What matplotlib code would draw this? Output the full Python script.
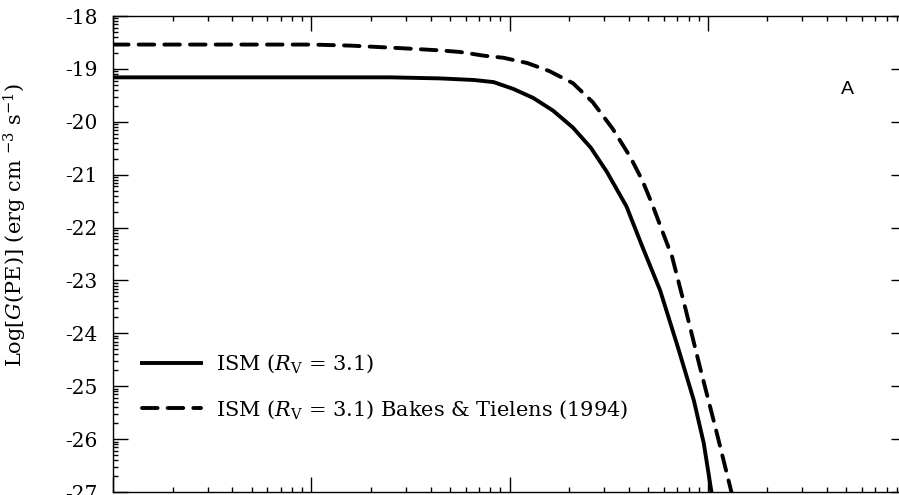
"""
photoelectric heating rate curves, ISM (Rv=3.1) vs Bakes & Tielens (1994)
"""
import numpy as np
import matplotlib
matplotlib.use("Agg")
import matplotlib.pyplot as plt
from matplotlib.ticker import FixedLocator, LogLocator, NullFormatter

plt.rcParams['font.family'] = ['DejaVu Serif']
plt.rcParams['mathtext.fontset'] = 'dejavuserif'
plt.rcParams['axes.unicode_minus'] = False

ism_logx = [0.0, 0.5, 1.0, 1.40, 1.65, 1.82, 1.92, 2.02, 2.12, 2.22, 2.32,
            2.41, 2.49, 2.59, 2.67, 2.76, 2.85, 2.93, 2.98, 3.02, 3.05]
ism_logg = [-19.16, -19.16, -19.16, -19.16, -19.18, -19.21, -19.25, -19.38,
            -19.55, -19.79, -20.11, -20.49, -20.94, -21.60, -22.36, -23.19,
            -24.27, -25.27, -26.08, -27.03, -27.7]

bt_logx = [0.0, 0.5, 1.0, 1.20, 1.46, 1.65, 1.75, 1.87, 1.97, 2.09, 2.20,
           2.32, 2.42, 2.52, 2.61, 2.67, 2.72, 2.77, 2.82, 2.89, 2.96, 3.04,
           3.12, 3.15]
bt_logg = [-18.54, -18.54, -18.54, -18.56, -18.61, -18.65, -18.68, -18.75,
           -18.79, -18.89, -19.04, -19.27, -19.63, -20.13, -20.67, -21.11,
           -21.56, -22.06, -22.55, -23.57, -24.63, -25.80, -27.01, -27.8]

y_major = [-27, -26, -25, -24, -23, -22, -21, -20, -19, -18]

labels = [r'ISM ($R_{\rm V}$ = 3.1)',
          r'ISM ($R_{\rm V}$ = 3.1) Bakes & Tielens (1994)']


def plot_rates():
    fig = plt.figure(figsize=(8.99, 4.95), dpi=100)
    ax = fig.add_axes([113/899, 3/495, 793/899, 476/495])

    x1 = np.power(10.0, ism_logx)
    x2 = np.power(10.0, bt_logx)
    ax.plot(x1, ism_logg, 'k-', lw=2.8, label=labels[0],
            solid_joinstyle='round')
    ax.plot(x2, bt_logg, 'k--', lw=2.8, dashes=(4, 2.6),
            dash_capstyle='round', dash_joinstyle='round', label=labels[1])

    ax.set_xscale('log')
    ax.set_xlim(1, 1e4)
    ax.set_ylim(-27, -18)

    #ticks
    ax.xaxis.set_major_locator(LogLocator(base=10))
    ax.xaxis.set_minor_locator(LogLocator(base=10, subs=np.arange(2, 10)))
    ax.xaxis.set_minor_formatter(NullFormatter())
    ax.yaxis.set_major_locator(FixedLocator(y_major))
    yminor = [k + np.log10(m) for k in range(-27, -18) for m in range(2, 10)]
    ax.yaxis.set_minor_locator(FixedLocator(yminor))
    ax.set_yticklabels([str(v) for v in y_major])

    ax.tick_params(which='both', direction='in', top=True, right=True,
                   bottom=True, left=True, labelbottom=False, width=1.0)
    ax.tick_params(which='major', length=11, pad=11, labelsize=14.5)
    ax.tick_params(which='minor', length=3.8)
    ax.tick_params(axis='y', which='minor', right=False)
    for s in ax.spines.values():
        s.set_linewidth(1.0)

    ax.set_ylabel(r'Log[$G$(PE)] (erg cm $^{-3}$ s$^{-1}$)', fontsize=15)
    ax.yaxis.set_label_coords(-0.106, 0.56)

    ax.text(0.9256, 0.845, 'A', transform=ax.transAxes, fontsize=14,
            family='Liberation Sans', ha='center', va='center')

    ax.legend(loc='lower left', bbox_to_anchor=(0.013, 0.11), frameon=False,
              fontsize=15, handlelength=2.85, handletextpad=0.72,
              labelspacing=1.1)

    fig.savefig('out.png', dpi=100)


def main():
    plot_rates()

if __name__ == "__main__":
    main()
